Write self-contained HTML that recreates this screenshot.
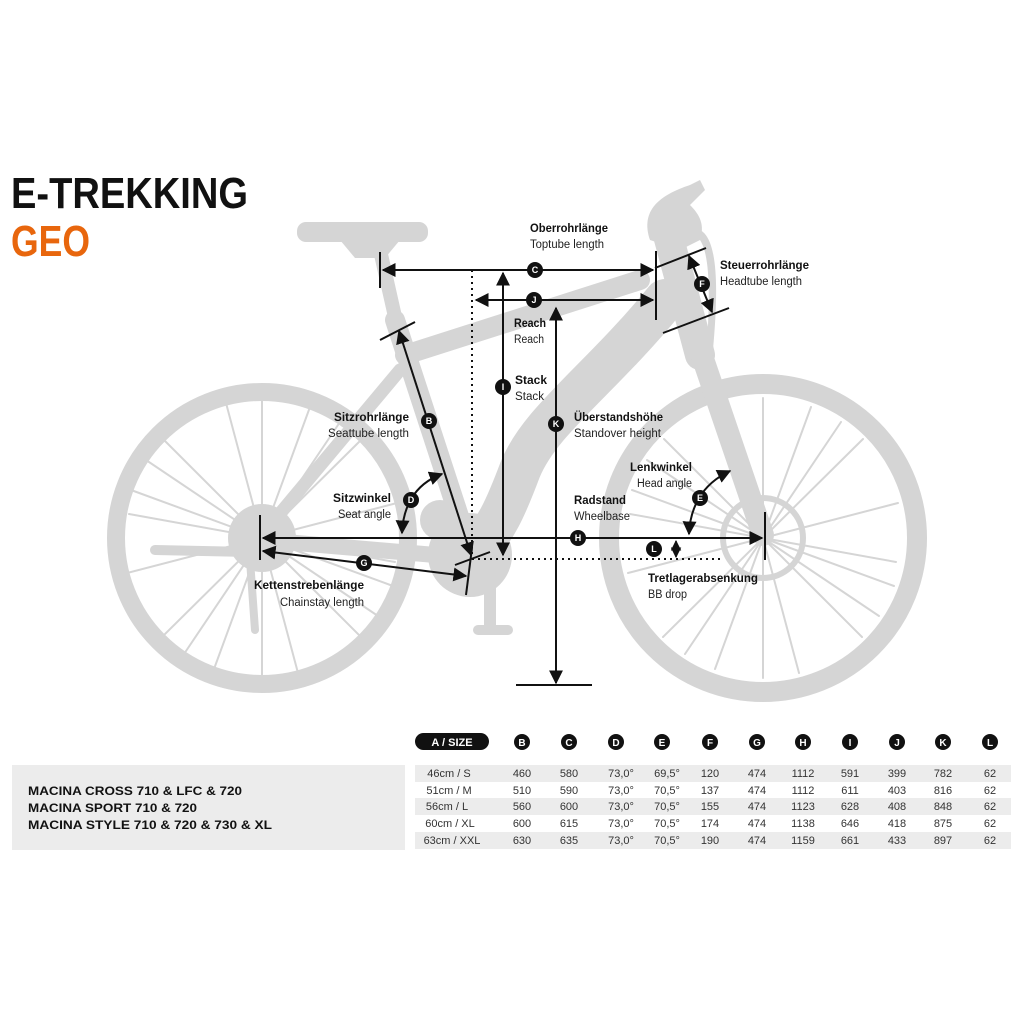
<!DOCTYPE html>
<html><head><meta charset="utf-8"><style>
body{margin:0;background:#fff;}
svg{display:block}
.b{font-family:"Liberation Sans Narrow","Liberation Sans",sans-serif;font-weight:bold;font-size:11.5px;fill:#111}
.r{font-family:"Liberation Sans Narrow","Liberation Sans",sans-serif;font-size:11.5px;fill:#222}
.t{font-family:"Liberation Sans Narrow","Liberation Sans",sans-serif;font-size:11px;fill:#333}
.ci{font-family:"Liberation Sans",sans-serif;font-weight:bold;font-size:9px;fill:#fff;text-anchor:middle}
</style></head><body>
<svg width="1024" height="1024" viewBox="0 0 1024 1024" xmlns="http://www.w3.org/2000/svg">
<defs>
<marker id="a" viewBox="0 0 10 10" refX="9" refY="5" markerWidth="7" markerHeight="7" orient="auto-start-reverse"><path d="M0,0L10,5L0,10z" fill="#111"/></marker>
</defs>
<text x="11" y="208" textLength="237" lengthAdjust="spacingAndGlyphs" style="font-family:'Liberation Sans',sans-serif;font-weight:bold;font-size:44px;fill:#111">E-TREKKING</text>
<text x="11" y="256" textLength="79" lengthAdjust="spacingAndGlyphs" style="font-family:'Liberation Sans',sans-serif;font-weight:bold;font-size:44px;fill:#e8660d">GEO</text>

<g fill="none" stroke="#d5d5d5" stroke-linecap="round">
<circle cx="262" cy="538" r="146" stroke-width="18"/>
<circle cx="763" cy="538" r="154" stroke-width="20"/>
<g stroke-width="2">
<path d="M262,538 m0,-140 L262,538 M262,538 L397,503 M262,538 L262,678 M262,538 L127,573 M262,538 L362,439 M262,538 L162,637 M262,538 L361,637 M262,538 L163,439 M262,538 L310,407 M262,538 L214,669 M262,538 L393,586 M262,538 L131,490 M262,538 L226,403 M262,538 L298,673 M262,538 L395,562 M262,538 L129,514 M262,538 L340,422 M262,538 L184,654 M262,538 L378,616 M262,538 L146,460"/>
<path d="M763,538 m0,-140 L763,538 M763,538 L898,503 M763,538 L763,678 M763,538 L628,573 M763,538 L863,439 M763,538 L663,637 M763,538 L862,637 M763,538 L664,439 M763,538 L811,407 M763,538 L715,669 M763,538 L894,586 M763,538 L632,490 M763,538 L727,403 M763,538 L799,673 M763,538 L896,562 M763,538 L630,514 M763,538 L841,422 M763,538 L685,654 M763,538 L879,616 M763,538 L647,460"/>
</g>
<line x1="380" y1="250" x2="398" y2="330" stroke-width="14"/>
<line x1="395" y1="320" x2="470" y2="550" stroke-width="20"/>
<line x1="405" y1="355" x2="640" y2="280" stroke-width="20"/>
<path d="M665,300 C600,380 540,420 520,470 C505,510 495,530 480,545" stroke-width="42"/>
<line x1="668" y1="235" x2="700" y2="355" stroke-width="30"/>
<line x1="700" y1="350" x2="763" y2="535" stroke-width="22"/>
<line x1="470" y1="558" x2="262" y2="540" stroke-width="16"/>
<line x1="400" y1="370" x2="262" y2="535" stroke-width="13"/>
<line x1="490" y1="565" x2="490" y2="625" stroke-width="12"/>
<line x1="478" y1="630" x2="508" y2="630" stroke-width="10"/>
<line x1="155" y1="550" x2="250" y2="552" stroke-width="10"/>
<line x1="250" y1="560" x2="255" y2="630" stroke-width="8"/>
</g>
<g fill="#d5d5d5">
<rect x="297" y="222" width="131" height="20" rx="9"/>
<path d="M340,240 L400,240 L385,258 L355,258z"/>
<circle cx="262" cy="538" r="34"/>
<circle cx="470" cy="555" r="42"/>
<circle cx="440" cy="520" r="20"/>
<circle cx="763" cy="538" r="40" fill="none" stroke="#d5d5d5" stroke-width="6"/>
<path d="M650,240 C640,210 660,195 690,185 L700,180 L705,190 L690,205 C700,215 705,225 700,240 L680,250z"/>
<path d="M700,230 C720,240 718,300 712,360 L706,360 C710,300 712,245 695,235z"/>
</g>

<g stroke="#111" stroke-width="2" fill="none">
<line x1="380" y1="252" x2="380" y2="288"/>
<line x1="656" y1="251" x2="656" y2="320"/>
<line x1="383" y1="270" x2="653" y2="270" marker-start="url(#a)" marker-end="url(#a)"/>
<line x1="476" y1="300" x2="653" y2="300" marker-start="url(#a)" marker-end="url(#a)"/>
<line x1="503" y1="273" x2="503" y2="555" marker-start="url(#a)" marker-end="url(#a)"/>
<line x1="556" y1="308" x2="556" y2="683" marker-start="url(#a)" marker-end="url(#a)"/>
<line x1="516" y1="685" x2="592" y2="685"/>
<line x1="260" y1="515" x2="260" y2="560"/>
<line x1="765" y1="512" x2="765" y2="560"/>
<line x1="263" y1="538" x2="762" y2="538" marker-start="url(#a)" marker-end="url(#a)"/>
<line x1="676" y1="541" x2="676" y2="557" stroke-width="1.5" marker-start="url(#a)" marker-end="url(#a)"/>
<line x1="380" y1="340" x2="415" y2="322"/>
<line x1="399" y1="331" x2="471" y2="555" marker-start="url(#a)" marker-end="url(#a)"/>
<line x1="455" y1="565" x2="490" y2="552"/>
<line x1="472" y1="548" x2="466" y2="595"/>
<line x1="263" y1="551" x2="466" y2="576" marker-start="url(#a)" marker-end="url(#a)"/>
<line x1="655" y1="268" x2="706" y2="248"/>
<line x1="663" y1="333" x2="729" y2="308"/>
<line x1="689" y1="256" x2="712" y2="312" marker-start="url(#a)" marker-end="url(#a)"/>
<path d="M402,533 C403,510 412,485 442,474" marker-start="url(#a)" marker-end="url(#a)"/>
<path d="M689,534 C690,510 700,485 730,471" marker-start="url(#a)" marker-end="url(#a)"/>
</g>
<g stroke="#111" stroke-width="2" stroke-dasharray="2,4">
<line x1="472" y1="270" x2="472" y2="558"/>
<line x1="472" y1="559" x2="720" y2="559"/>
</g>
<g fill="#111">
<circle cx="535" cy="270" r="8"/><circle cx="534" cy="300" r="8"/><circle cx="503" cy="387" r="8"/>
<circle cx="556" cy="424" r="8"/><circle cx="429" cy="421" r="8"/><circle cx="411" cy="500" r="8"/>
<circle cx="700" cy="498" r="8"/><circle cx="702" cy="284" r="8"/><circle cx="364" cy="563" r="8"/>
<circle cx="578" cy="538" r="8"/><circle cx="654" cy="549" r="8"/>
</g>
<g class="ci">
<text x="535" y="273">C</text><text x="534" y="303">J</text><text x="503" y="390">I</text>
<text x="556" y="427">K</text><text x="429" y="424">B</text><text x="411" y="503">D</text>
<text x="700" y="501">E</text><text x="702" y="287">F</text><text x="364" y="566">G</text>
<text x="578" y="541">H</text><text x="654" y="552">L</text>
</g>
<text class="b" x="530" y="232" textLength="78" lengthAdjust="spacingAndGlyphs">Oberrohrlänge</text><text class="r" x="530" y="248" textLength="74" lengthAdjust="spacingAndGlyphs">Toptube length</text>
<text class="b" x="720" y="269" textLength="89" lengthAdjust="spacingAndGlyphs">Steuerrohrlänge</text><text class="r" x="720" y="285" textLength="82" lengthAdjust="spacingAndGlyphs">Headtube length</text>
<text class="b" x="514" y="327" textLength="32" lengthAdjust="spacingAndGlyphs">Reach</text><text class="r" x="514" y="343" textLength="30" lengthAdjust="spacingAndGlyphs">Reach</text>
<text class="b" x="515" y="384" textLength="32" lengthAdjust="spacingAndGlyphs">Stack</text><text class="r" x="515" y="400" textLength="29" lengthAdjust="spacingAndGlyphs">Stack</text>
<text class="b" x="574" y="421" textLength="89" lengthAdjust="spacingAndGlyphs">Überstandshöhe</text><text class="r" x="574" y="437" textLength="87" lengthAdjust="spacingAndGlyphs">Standover height</text>
<text class="b" x="334" y="421" textLength="75" lengthAdjust="spacingAndGlyphs">Sitzrohrlänge</text><text class="r" x="328" y="437" textLength="81" lengthAdjust="spacingAndGlyphs">Seattube length</text>
<text class="b" x="333" y="502" textLength="58" lengthAdjust="spacingAndGlyphs">Sitzwinkel</text><text class="r" x="338" y="518" textLength="53" lengthAdjust="spacingAndGlyphs">Seat angle</text>
<text class="b" x="630" y="471" textLength="62" lengthAdjust="spacingAndGlyphs">Lenkwinkel</text><text class="r" x="637" y="487" textLength="55" lengthAdjust="spacingAndGlyphs">Head angle</text>
<text class="b" x="574" y="504" textLength="52" lengthAdjust="spacingAndGlyphs">Radstand</text><text class="r" x="574" y="520" textLength="56" lengthAdjust="spacingAndGlyphs">Wheelbase</text>
<text class="b" x="254" y="589" textLength="110" lengthAdjust="spacingAndGlyphs">Kettenstrebenlänge</text><text class="r" x="280" y="606" textLength="84" lengthAdjust="spacingAndGlyphs">Chainstay length</text>
<text class="b" x="648" y="582" textLength="110" lengthAdjust="spacingAndGlyphs">Tretlagerabsenkung</text><text class="r" x="648" y="598" textLength="39" lengthAdjust="spacingAndGlyphs">BB drop</text>

<rect x="12" y="765" width="393" height="85" fill="#ececec"/>
<rect x="415" y="765" width="596" height="17" fill="#ececec"/>
<rect x="415" y="798" width="596" height="17" fill="#ececec"/>
<rect x="415" y="832" width="596" height="17" fill="#ececec"/>
<rect x="415" y="733" width="74" height="17" rx="8.5" fill="#111"/>
<text x="452" y="746" class="ci" style="font-size:11px">A / SIZE</text>
<g fill="#111">
<circle cx="522" cy="742" r="8"/><circle cx="569" cy="742" r="8"/><circle cx="616" cy="742" r="8"/><circle cx="662" cy="742" r="8"/><circle cx="710" cy="742" r="8"/><circle cx="757" cy="742" r="8"/><circle cx="803" cy="742" r="8"/><circle cx="850" cy="742" r="8"/><circle cx="897" cy="742" r="8"/><circle cx="943" cy="742" r="8"/><circle cx="990" cy="742" r="8"/>
</g>
<g class="ci" style="font-size:10px">
<text x="522" y="746">B</text><text x="569" y="746">C</text><text x="616" y="746">D</text><text x="662" y="746">E</text><text x="710" y="746">F</text><text x="757" y="746">G</text><text x="803" y="746">H</text><text x="850" y="746">I</text><text x="897" y="746">J</text><text x="943" y="746">K</text><text x="990" y="746">L</text>
</g>
<g class="b" style="font-size:12px">
<text x="28" y="795" textLength="214" lengthAdjust="spacingAndGlyphs">MACINA CROSS  710 &amp; LFC &amp; 720</text>
<text x="28" y="812" textLength="169" lengthAdjust="spacingAndGlyphs">MACINA SPORT 710 &amp; 720</text>
<text x="28" y="829" textLength="244" lengthAdjust="spacingAndGlyphs">MACINA STYLE 710 &amp; 720 &amp; 730 &amp; XL</text>
</g>
<g class="t" text-anchor="middle">
<text x="449" y="777">46cm / S</text><text x="522" y="777">460</text><text x="569" y="777">580</text><text x="621" y="777">73,0°</text><text x="667" y="777">69,5°</text><text x="710" y="777">120</text><text x="757" y="777">474</text><text x="803" y="777">1112</text><text x="850" y="777">591</text><text x="897" y="777">399</text><text x="943" y="777">782</text><text x="990" y="777">62</text>
<text x="449" y="794">51cm / M</text><text x="522" y="794">510</text><text x="569" y="794">590</text><text x="621" y="794">73,0°</text><text x="667" y="794">70,5°</text><text x="710" y="794">137</text><text x="757" y="794">474</text><text x="803" y="794">1112</text><text x="850" y="794">611</text><text x="897" y="794">403</text><text x="943" y="794">816</text><text x="990" y="794">62</text>
<text x="447" y="810">56cm / L</text><text x="522" y="810">560</text><text x="569" y="810">600</text><text x="621" y="810">73,0°</text><text x="667" y="810">70,5°</text><text x="710" y="810">155</text><text x="757" y="810">474</text><text x="803" y="810">1123</text><text x="850" y="810">628</text><text x="897" y="810">408</text><text x="943" y="810">848</text><text x="990" y="810">62</text>
<text x="450" y="827">60cm / XL</text><text x="522" y="827">600</text><text x="569" y="827">615</text><text x="621" y="827">73,0°</text><text x="667" y="827">70,5°</text><text x="710" y="827">174</text><text x="757" y="827">474</text><text x="803" y="827">1138</text><text x="850" y="827">646</text><text x="897" y="827">418</text><text x="943" y="827">875</text><text x="990" y="827">62</text>
<text x="452" y="844">63cm / XXL</text><text x="522" y="844">630</text><text x="569" y="844">635</text><text x="621" y="844">73,0°</text><text x="667" y="844">70,5°</text><text x="710" y="844">190</text><text x="757" y="844">474</text><text x="803" y="844">1159</text><text x="850" y="844">661</text><text x="897" y="844">433</text><text x="943" y="844">897</text><text x="990" y="844">62</text>
</g>
</svg>
</body></html>
